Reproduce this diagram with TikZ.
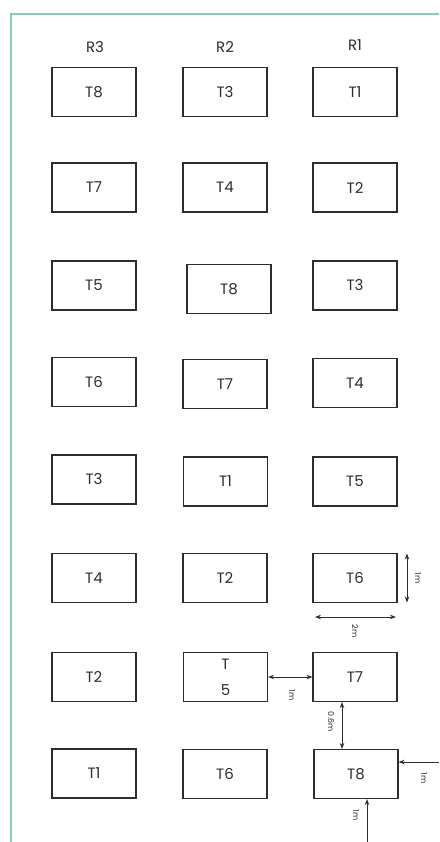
\documentclass[tikz,border=0pt]{standalone}
\usepackage{fontspec}
\setmainfont{Poppins}
\usetikzlibrary{arrows.meta}
\definecolor{framegreen}{RGB}{135,205,178}
\definecolor{ink}{RGB}{45,45,45}
\begin{document}
\begin{tikzpicture}[x=1pt,y=-1pt,
  every node/.style={text=ink},
  tbox/.style={draw=ink,line width=1.1pt,minimum width=84pt,minimum height=49pt,inner sep=0pt,font=\fontsize{15}{17}\selectfont},
  hdr/.style={font=\fontsize{15}{17}\selectfont},
  dimarrow/.style={draw=ink,line width=0.9pt,{Stealth[length=6pt,width=4.5pt]}-{Stealth[length=6pt,width=4.5pt]}},
  onearrow/.style={draw=ink,line width=0.9pt,-{Stealth[length=6pt,width=4.5pt]}},
  dimlabel/.style={font=\fontsize{8}{9}\selectfont,rotate=-90,inner sep=0pt}]
\useasboundingbox (0,0) rectangle (439,842);
\fill[white] (0,0) rectangle (439,842);
\draw[framegreen,line width=1.5pt] (11,842) -- (11,14) -- (439,14);
% headers
\node[hdr] (r3) at (95,47) {R3};
\node[hdr] (r2) at (225,47) {R2};
\node[hdr] (r1) at (355,45) {R1};
% column R3
\node[tbox] (a1) at (94,92) {T8};
\node[tbox] (a2) at (94,187.5) {T7};
\node[tbox] (a3) at (94,285.5) {T5};
\node[tbox] (a4) at (94,382) {T6};
\node[tbox] (a5) at (94,479.5) {T3};
\node[tbox] (a6) at (94,578) {T4};
\node[tbox] (a7) at (94,677) {T2};
\node[tbox] (a8) at (94,773.5) {T1};
% column R2
\node[tbox] (b1) at (225,92) {T3};
\node[tbox] (b2) at (225,187.5) {T4};
\node[tbox] (b3) at (229,289) {T8};
\node[tbox] (b4) at (225,384) {T7};
\node[tbox] (b5) at (225.5,481.5) {T1};
\node[tbox] (b6) at (225,578) {T2};
\node[tbox,align=center,font=\fontsize{15}{26}\selectfont] (b7) at (225.5,677) {T\\5};
\node[tbox] (b8) at (225,774) {T6};
% column R1
\node[tbox] (c1) at (355,92) {T1};
\node[tbox] (c2) at (355,187.5) {T2};
\node[tbox] (c3) at (355,285.5) {T3};
\node[tbox] (c4) at (355,383) {T4};
\node[tbox] (c5) at (355,481.5) {T5};
\node[tbox] (c6) at (355,578) {T6};
\node[tbox] (c7) at (355,677) {T7};
\node[tbox] (c8) at (356,774) {T8};
% dimensions
\coordinate (v1a) at (407,553.5);
\coordinate (v1b) at (407,602.5);
\draw[dimarrow] (v1a) -- (v1b);
\node[dimlabel] (l1) at (418,578) {1m};
\coordinate (h1a) at (315,617);
\coordinate (h1b) at (396,617);
\draw[dimarrow] (h1a) -- (h1b);
\node[dimlabel] (l2) at (355,631) {2m};
\draw[dimarrow] (b7.east) -- (c7.west);
\node[dimlabel] (l3) at (292,695) {1m};
\draw[dimarrow] (c7.south -| 342,0) -- (c8.north -| 342,0);
\node[dimlabel] (l4) at (331,722) {0.6m};
\coordinate (e1) at (439,762);
\draw[onearrow] (e1) -- (c8.east |- e1);
\node[dimlabel] (l5) at (424,778) {1m};
\coordinate (e2) at (367,842);
\draw[onearrow] (e2) -- (c8.south -| e2);
\node[dimlabel] (l6) at (356,815) {1m};
\end{tikzpicture}
\end{document}
